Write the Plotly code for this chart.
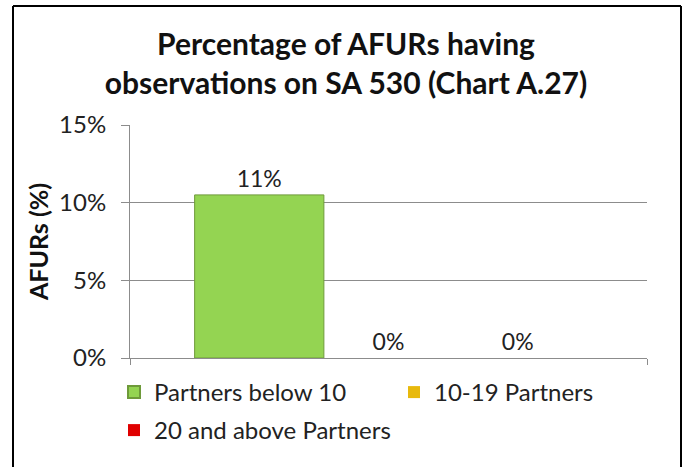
import plotly.graph_objects as go

series_names = ["Partners below 10", "10-19 Partners", "20 and above Partners"]
values = [10.5, 0, 0]
value_labels = ["11%", "0%", "0%"]
colors = ["#94D452", "#E8B90C", "#E00000"]
y_ticks = [0, 5, 10, 15]
y_tick_labels = ["0%", "5%", "10%", "15%"]

FONT = "Lato, 'Open Sans', sans-serif"
W, H = 685, 467
ML, MR, MT, MB = 130, 38, 125, 109

legend_ids = ["legend", "legend2", "legend3"]

fig = go.Figure()
for name, v, lab, c, lg in zip(series_names, values, value_labels, colors, legend_ids):
    fig.add_trace(go.Bar(
        x=[""], y=[v], name=name, text=[lab], textposition="outside",
        textfont=dict(size=23, color="#222222", family=FONT),
        marker=dict(color=c, line=dict(color="#6E9A3A", width=1 if v > 0 else 0)),
        cliponaxis=False,
        legend=lg,
    ))

pw = W - ML - MR
ph = H - MT - MB
def px2x(p):
    return (p - ML) / pw
def py2y(p):
    return (H - MB - p) / ph

legend_font = dict(size=24, family=FONT, color="#222222")
def leg(x_px, y_px):
    return dict(orientation="h", xref="container", yref="container",
                x=x_px / W, xanchor="left", y=1 - y_px / H, yanchor="top",
                font=legend_font, itemsizing="constant", bgcolor="rgba(0,0,0,0)")

fig.update_layout(
    width=W, height=H,
    margin=dict(l=ML, r=MR, t=MT, b=MB, autoexpand=False),
    paper_bgcolor="white", plot_bgcolor="white",
    barmode="group", bargap=0.25, bargroupgap=0,
    font=dict(family=FONT, color="#222222"),
    title=dict(
        text="<b>Percentage of AFURs having<br>observations on SA 530 (Chart A.27)</b>",
        x=346 / W, xanchor="center", xref="container", y=1 - 55 / H, yanchor="top",
        font=dict(size=30, family=FONT, color="#111111"),
    ),
    xaxis=dict(showticklabels=False, showline=True, linecolor="#8C8C8C", linewidth=1,
               ticks="outside", tickson="boundaries", ticklen=6, tickcolor="#8C8C8C",
               showgrid=False),
    yaxis=dict(range=[0, 15], tickvals=y_ticks, ticktext=y_tick_labels,
               showgrid=True, gridcolor="#8C8C8C", gridwidth=1,
               showline=True, linecolor="#8C8C8C", linewidth=1,
               ticks="outside", ticklen=8, tickcolor="#8C8C8C",
               ticklabelstandoff=10,
               tickfont=dict(size=24, family=FONT, color="#222222"),
               title=dict(text="<b>AFURs (%)</b>", font=dict(size=25, family=FONT, color="#111111"),
                          standoff=3),
               zeroline=False),
    legend=leg(114, 370),
    legend2=leg(394, 370),
    legend3=leg(114, 408),
    showlegend=True,
)

# chart frame
fig.add_shape(type="line", xref="paper", yref="paper", x0=px2x(13), x1=px2x(13),
              y0=py2y(6), y1=py2y(470), line=dict(color="black", width=2))
fig.add_shape(type="line", xref="paper", yref="paper", x0=px2x(681), x1=px2x(681),
              y0=py2y(6), y1=py2y(470), line=dict(color="black", width=2))
fig.add_shape(type="line", xref="paper", yref="paper", x0=px2x(13), x1=px2x(681),
              y0=py2y(6), y1=py2y(6), line=dict(color="black", width=2))

fig.write_html("out.html", config={"displayModeBar": False},
               post_script="document.body.style.margin='0';")
